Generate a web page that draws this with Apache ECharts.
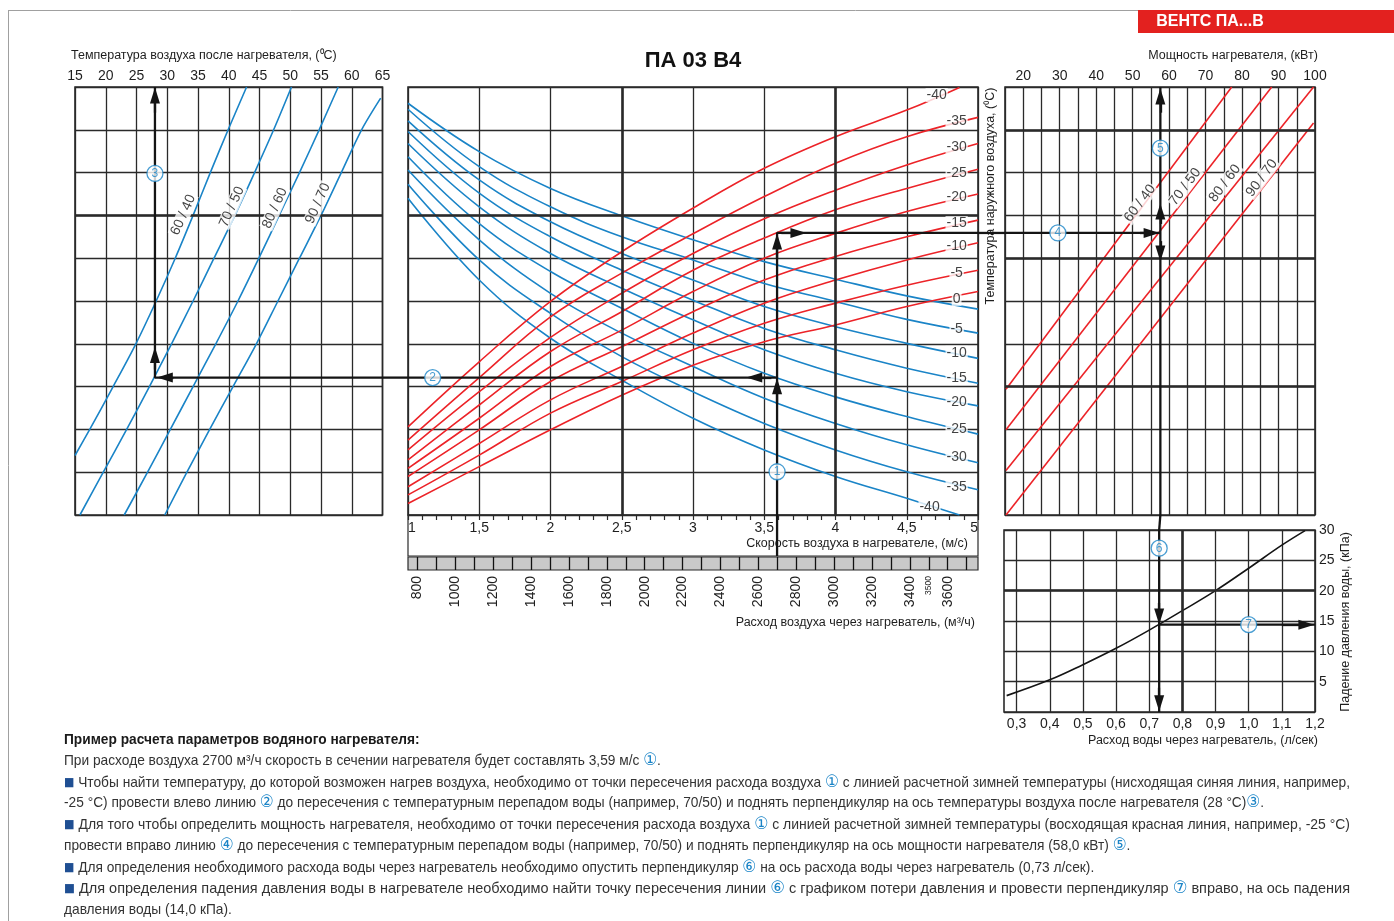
<!DOCTYPE html>
<html lang="ru">
<head>
<meta charset="utf-8">
<title>ПА 03 В4</title>
<script src="https://cdn.jsdelivr.net/npm/echarts@6.0.0/dist/echarts.min.js"></script>
<style>
html,body{margin:0;padding:0;background:#fff;}
#chart{width:1394px;height:921px;}
</style>
</head>
<body>
<div id="chart"></div>
<script>
// ================= DATA =================
// shared row scale of the three upper panels (0 = bottom edge, 10 = top edge)
const rowTicks = [0, 1, 2, 3, 4, 5, 6, 7, 8, 9, 10];

// ---- left panel: air temperature after heater, °C ----
const airTempTicks = [15, 20, 25, 30, 35, 40, 45, 50, 55, 60, 65];
const waterRegimes = ['60 / 40', '70 / 50', '80 / 60', '90 / 70'];
const left6040 = [[15.0,1.39],[17.4,2],[21.2,3],[24.9,4],[28.2,5],[31.3,6],[34.2,7],[37.0,8],[39.9,9],[42.9,10]];
const left7050 = [[15.8,0],[19.6,1],[23.4,2],[27.1,3],[30.7,4],[34.2,5],[37.6,6],[41.0,7],[44.2,8],[47.3,9],[50.2,10]];
const left8060 = [[23.0,0],[26.8,1],[30.5,2],[34.2,3],[37.9,4],[41.5,5],[44.9,6],[48.2,7],[51.5,8],[54.7,9],[57.8,10]];
const left9070 = [[29.6,0],[33.2,1],[36.9,2],[40.7,3],[44.5,4],[48.0,5],[51.5,6],[55.0,7],[58.3,8],[61.6,9],[64.7,9.74]];
const leftLabelPos = [[32.6,7.01],[40.5,7.20],[47.5,7.17],[54.5,7.28]];

// ---- centre panel: air speed in heater, m/s ----
const speedTicks = [1, 1.5, 2, 2.5, 3, 3.5, 4, 4.5, 5];
const curveSpeeds = [1, 1.5, 2, 2.5, 3, 3.5, 4, 4.5, 5];
// descending blue curves (outdoor temperature)
const blue0   = [9.62, 8.49, 7.63, 6.99, 6.43, 5.92, 5.51, 5.12, 4.81];
const blueM5  = [9.48, 8.14, 7.20, 6.50, 5.96, 5.41, 4.99, 4.57, 4.25];
const blueM10 = [9.21, 7.83, 6.85, 6.11, 5.49, 4.87, 4.40, 4.01, 3.66];
const blueM15 = [8.96, 7.52, 6.50, 5.72, 5.02, 4.36, 3.86, 3.43, 3.08];
const blueM20 = [8.68, 7.20, 6.11, 5.30, 4.56, 3.86, 3.31, 2.88, 2.55];
const blueM25 = [8.37, 6.81, 5.69, 4.83, 4.01, 3.31, 2.76, 2.30, 1.89];
const blueM30 = [8.06, 6.43, 5.18, 4.25, 3.47, 2.73, 2.14, 1.64, 1.22];
const blueM35 = [7.73, 5.96, 4.71, 3.70, 2.88, 2.14, 1.52, 1.01, 0.59];
const blueM40 = [7.40, 5.49, 4.13, 3.15, 2.26, 1.52, 0.90, 0.39, null];
const blueM40End = [4.87, 0.0];
// ascending red curves (outdoor temperature)
const redM40 = [2.06, 3.58, 4.99, 6.15, 7.17, 8.10, 8.84, 9.46, null];
const redM40End = [4.87, 9.99];
const redM35 = [1.75, 3.21, 4.63, 5.65, 6.57, 7.44, 8.22, 8.84, 9.29];
const redM30 = [1.52, 2.88, 4.15, 5.18, 6.11, 6.92, 7.59, 8.18, 8.68];
const redM25 = [1.29, 2.57, 3.82, 4.75, 5.72, 6.47, 7.13, 7.63, 8.08];
const redM20 = [1.09, 2.26, 3.47, 4.32, 5.22, 6.00, 6.58, 7.09, 7.50];
const redM15 = [0.90, 1.99, 3.12, 3.93, 4.75, 5.49, 6.04, 6.50, 6.89];
const redM10 = [0.66, 1.67, 2.69, 3.47, 4.25, 4.95, 5.49, 5.96, 6.36];
const redM5  = [0.47, 1.40, 2.38, 3.12, 3.86, 4.48, 4.95, 5.37, 5.72];
const red0   = [0.27, 1.13, 1.99, 2.80, 3.50, 4.05, 4.44, 4.87, 5.22];
// curve label anchors
const redLabelTemps  = [-40, -35, -30, -25, -20, -15, -10, -5, 0];
const redLabelSpeed  = [4.71, 4.85, 4.85, 4.85, 4.85, 4.85, 4.85, 4.85, 4.85];
const redLabelRow    = [9.81, 9.21, 8.60, 7.99, 7.43, 6.82, 6.29, 5.65, 5.05];
const blueLabelTemps = [-5, -10, -15, -20, -25, -30, -35, -40];
const blueLabelSpeed = [4.85, 4.85, 4.85, 4.85, 4.85, 4.85, 4.85, 4.66];
const blueLabelRow   = [4.35, 3.79, 3.20, 2.64, 2.01, 1.36, 0.65, 0.19];

// ---- air flow scale, m³/h ----
const flowRange  = [750, 3760];
const flowLabels = [800, 1000, 1200, 1400, 1600, 1800, 2000, 2200, 2400, 2600, 2800, 3000, 3200, 3400, 3500, 3600];
const flowCells  = [800, 900, 1000, 1100, 1200, 1300, 1400, 1500, 1600, 1700, 1800, 1900, 2000, 2100, 2200, 2300, 2400, 2500, 2600, 2700, 2800, 2900, 3000, 3100, 3200, 3300, 3400, 3500, 3600, 3700];

// ---- right panel: heater power, kW ----
const powerTicks = [15, 20, 25, 30, 35, 40, 45, 50, 55, 60, 65, 70, 75, 80, 85, 90, 95, 100];
const right6040 = [[15.27, 2.94], [77.16, 10]];
const right7050 = [[15.27, 1.99], [88.13, 10]];
const right8060 = [[15.27, 1.04], [99.6, 10]];
const right9070 = [[15.27, 0.00], [99.6, 9.16]];
const rightLabelPos = [[52.0,7.28],[64.4,7.67],[75.3,7.75],[85.4,7.87]];

// ---- bottom right: water flow (l/s) vs pressure drop (kPa) ----
const waterRange    = [0.262, 1.2];
const waterTicks    = [0.3, 0.4, 0.5, 0.6, 0.7, 0.8, 0.9, 1.0, 1.1, 1.2];
const pressureTicks = [0, 5, 10, 15, 20, 25, 30];
const waterFlow     = [0.27, 0.4, 0.5, 0.6, 0.7, 0.8, 0.9, 1.0, 1.1, 1.17];
const pressureDrop  = [2.7, 5.3, 7.8, 10.5, 13.5, 16.7, 20.0, 23.7, 27.5, 29.9];

// ---- worked example ----
const exSpeed = 3.59, exRowBlue = 3.21, exRowRed = 6.59, exAirTemp = 28;
const exPower = 57.6, exWater = 0.73, exDrop = 14.4;
// arrow heads: [fromX, fromY, toX(head centre), toY]
const centreArrows = [[exSpeed,2.6,exSpeed,3.01],[exSpeed,6.0,exSpeed,6.39],[3.62,exRowRed,3.74,exRowRed],[3.55,exRowBlue,3.43,exRowBlue]];
const leftArrows   = [[31,exRowBlue,29.6,exRowBlue],[exAirTemp,3.4,exAirTemp,3.74],[exAirTemp,9.4,exAirTemp,9.80]];
const rightArrows  = [[52,exRowRed,55.2,exRowRed],[exPower,6.8,exPower,7.09],[exPower,9.4,exPower,9.78],[exPower,6.4,exPower,6.11]];
const bottomArrows = [[exWater,18,exWater,15.76],[exWater,4,exWater,1.45],[1.1,exDrop,1.174,exDrop]];
const centreCircles = [[exSpeed,1.01,'1'],[1.173,exRowBlue,'2']];
const leftCircles   = [[exAirTemp,7.98,'3']];
const rightCircles  = [[29.5,exRowRed,'4'],[exPower,8.57,'5']];
const bottomCircles = [[exWater,27.0,'6'],[1.0,exDrop,'7']];
// heavier grid lines
const boldLeftRows = [7], boldCentreRows = [7], boldCentreSpeeds = [2.5, 4];
const boldRightRows = [3, 6, 9], boldBottomPress = [20], boldBottomWater = [0.8];

// ================= STYLE =================
const BLUE = '#1a84c7', RED = '#ec2328', INK = '#141414', GRIDC = '#2a2a2a', TXT = '#1e1e1e';
const FONT = '"Liberation Sans", Arial, sans-serif';

const chart = echarts.init(document.getElementById('chart'), null, {width: 1394, height: 921});

const splitL = {show: true, lineStyle: {color: GRIDC, width: 1.3}};
const noAxisBits = {axisLine: {show: false}, axisTick: {show: false}};
const comma = v => String(v).replace('.', ',');

const series = [];
function curve(idx, data, color, smooth) {
  series.push({type: 'line', xAxisIndex: idx, yAxisIndex: idx, data: data, smooth: smooth, symbol: 'none',
    showSymbol: false, silent: true, z: 3, lineStyle: {color: color, width: 1.6}, emphasis: {disabled: true}});
}
function pathSeries(idx, data, arrows) {
  const s = {type: 'line', xAxisIndex: idx, yAxisIndex: idx, data: data, symbol: 'none', showSymbol: false,
    silent: true, z: 5, lineStyle: {color: INK, width: 2.3}, emphasis: {disabled: true}};
  if (arrows) {
    s.markLine = {silent: true, symbol: ['none', 'triangle'], symbolSize: [10, 16], label: {show: false},
      lineStyle: {color: INK, width: 2.3, type: 'solid'}, emphasis: {disabled: true}, animation: false,
      data: arrows.map(a => [{coord: [a[0], a[1]]}, {coord: [a[2], a[3]]}])};
  }
  series.push(s);
}
function boldLines(idx, xs, ys) {
  series.push({type: 'line', xAxisIndex: idx, yAxisIndex: idx, data: [], z: 1, silent: true,
    markLine: {silent: true, symbol: ['none', 'none'], label: {show: false}, animation: false,
      lineStyle: {color: GRIDC, width: 2.6, type: 'solid'}, emphasis: {disabled: true},
      data: [...xs.map(v => ({xAxis: v})), ...ys.map(v => ({yAxis: v}))]}});
}
function circles(idx, pts) {
  series.push({type: 'scatter', xAxisIndex: idx, yAxisIndex: idx, symbol: 'circle', symbolSize: 16, z: 8, silent: true,
    itemStyle: {color: '#fff', borderColor: BLUE, borderWidth: 1.3},
    label: {show: true, position: 'inside', formatter: p => p.data[2], color: BLUE, fontSize: 12, fontFamily: FONT},
    data: pts});
}
function textMarks(idx, pts, rot) {
  series.push({type: 'scatter', xAxisIndex: idx, yAxisIndex: idx, symbolSize: 1, z: 7, silent: true,
    itemStyle: {color: 'rgba(0,0,0,0)'},
    label: {show: true, position: 'inside', formatter: p => p.data[2], rotate: rot || 0, fontSize: 14,
      fontFamily: FONT, color: '#111', backgroundColor: '#fff', padding: [0, 1]},
    data: pts});
}
const withSpeeds = (rows, end) => {
  const d = [];
  curveSpeeds.forEach((s, i) => { if (rows[i] != null) d.push([s, rows[i]]); });
  if (end) d.push(end);
  return d;
};

// bold grid lines (under the curves)
boldLines(0, [], boldLeftRows);
boldLines(1, boldCentreSpeeds, boldCentreRows);
boldLines(2, [], boldRightRows);
boldLines(3, boldBottomWater, boldBottomPress);

// left panel
[left6040, left7050, left8060, left9070].forEach(d => curve(0, d, BLUE, 0.3));
// centre panel
[blue0, blueM5, blueM10, blueM15, blueM20, blueM25, blueM30, blueM35].forEach(r => curve(1, withSpeeds(r), BLUE, 0.4));
curve(1, withSpeeds(blueM40, blueM40End), BLUE, 0.4);
curve(1, withSpeeds(redM40, redM40End), RED, 0.4);
[redM35, redM30, redM25, redM20, redM15, redM10, redM5, red0].forEach(r => curve(1, withSpeeds(r), RED, 0.4));
// right panel
[right6040, right7050, right8060, right9070].forEach(d => curve(2, d, RED, false));
// bottom right
curve(3, waterFlow.map((w, i) => [w, pressureDrop[i]]), INK, 0.4);

// example path
pathSeries(1, [[exSpeed, 0], [exSpeed, exRowRed], [speedTicks[speedTicks.length - 1], exRowRed]], centreArrows);
pathSeries(1, [[exSpeed, exRowBlue], [speedTicks[0], exRowBlue]]);
pathSeries(4, [[exSpeed, 0], [exSpeed, 1]]);
pathSeries(0, [[airTempTicks[airTempTicks.length - 1], exRowBlue], [exAirTemp, exRowBlue], [exAirTemp, 10]], leftArrows);
pathSeries(2, [[powerTicks[0], exRowRed], [exPower, exRowRed]], rightArrows);
pathSeries(2, [[exPower, 10], [exPower, 0]]);
pathSeries(3, [[exWater, 30], [exWater, 0]], bottomArrows);
pathSeries(3, [[exWater, exDrop], [waterTicks[waterTicks.length - 1], exDrop]]);

// labels
textMarks(1, redLabelTemps.map((t, i) => [redLabelSpeed[i], redLabelRow[i], String(t)]));
textMarks(1, blueLabelTemps.map((t, i) => [blueLabelSpeed[i], blueLabelRow[i], String(t)]));
textMarks(0, leftLabelPos.map((p, i) => [p[0], p[1], waterRegimes[i]]), 66);
textMarks(2, rightLabelPos.map((p, i) => [p[0], p[1], waterRegimes[i]]), 53);
circles(1, centreCircles);
circles(0, leftCircles);
circles(2, rightCircles);
circles(3, bottomCircles);

// ================= STATIC TEXT / FRAME =================
const graphics = [
  {id: 'frTop', type: 'line', shape: {x1: 8, y1: 10.5, x2: 1138, y2: 10.5}, style: {stroke: '#a0a0a0', lineWidth: 1}},
  {id: 'frLeft', type: 'line', shape: {x1: 8.5, y1: 10, x2: 8.5, y2: 921}, style: {stroke: '#a0a0a0', lineWidth: 1}},
  {id: 'banner', type: 'rect', shape: {x: 1138, y: 10, width: 256, height: 23}, style: {fill: '#e3211f'}},
  {id: 'bannerT', type: 'text', x: 1210, y: 22, style: {text: 'ВЕНТС ПА...В', fill: '#fff', font: 'bold 16px ' + FONT, align: 'center', verticalAlign: 'middle'}},
  {id: 'title', type: 'text', x: 693, y: 61, style: {text: 'ПА 03 В4', fill: '#111', font: 'bold 22px ' + FONT, align: 'center', verticalAlign: 'middle'}},
  {id: 'nLeft', type: 'text', x: 71, y: 56, style: {text: 'Температура воздуха после нагревателя, (⁰C)', fill: TXT, font: '12.5px ' + FONT, align: 'left', verticalAlign: 'middle'}},
  {id: 'nPower', type: 'text', x: 1233, y: 56, style: {text: 'Мощность нагревателя, (кВт)', fill: TXT, font: '12.5px ' + FONT, align: 'center', verticalAlign: 'middle'}},
  {id: 'nOut', type: 'text', x: 991, y: 196, rotation: Math.PI / 2, style: {text: 'Температура наружного воздуха, (⁰C)', fill: TXT, font: '12.5px ' + FONT, align: 'center', verticalAlign: 'middle'}},
  {id: 'nSpeed', type: 'text', x: 968, y: 544, style: {text: 'Скорость воздуха в нагревателе, (м/с)', fill: TXT, font: '12.5px ' + FONT, align: 'right', verticalAlign: 'middle'}},
  {id: 'nFlow', type: 'text', x: 975, y: 623, style: {text: 'Расход воздуха через нагреватель, (м³/ч)', fill: TXT, font: '12.5px ' + FONT, align: 'right', verticalAlign: 'middle'}},
  {id: 'nDrop', type: 'text', x: 1346, y: 622, rotation: Math.PI / 2, style: {text: 'Падение давления воды, (кПа)', fill: TXT, font: '12.5px ' + FONT, align: 'center', verticalAlign: 'middle'}},
  {id: 'nWater', type: 'text', x: 1318, y: 741, style: {text: 'Расход воды через нагреватель, (л/сек)', fill: TXT, font: '12.5px ' + FONT, align: 'right', verticalAlign: 'middle'}}
];

// explanatory note below the chart
const noteLines = [
  {y: 740, bold: true, segs: [['t', 'Пример расчета параметров водяного нагревателя:']]},
  {y: 761, segs: [['t', 'При расходе воздуха 2700 м³/ч скорость в сечении нагревателя будет составлять 3,59 м/с '], ['c', '①'], ['t', '.']]},
  {y: 783, full: true, segs: [['q', '■'], ['t', ' Чтобы найти температуру, до которой возможен нагрев воздуха, необходимо от точки пересечения расхода воздуха '], ['c', '①'], ['t', ' с линией расчетной зимней температуры (нисходящая синяя линия, например,']]},
  {y: 803, segs: [['t', '-25 °С) провести влево линию '], ['c', '②'], ['t', ' до пересечения с температурным перепадом воды (например, 70/50) и поднять перпендикуляр на ось температуры воздуха после нагревателя (28 °С)'], ['c', '③'], ['t', '.']]},
  {y: 825, full: true, segs: [['q', '■'], ['t', ' Для того чтобы определить мощность нагревателя, необходимо от точки пересечения расхода воздуха '], ['c', '①'], ['t', ' с линией расчетной зимней температуры (восходящая красная линия, например, -25 °С)']]},
  {y: 846, segs: [['t', 'провести вправо линию '], ['c', '④'], ['t', ' до пересечения с температурным перепадом воды (например, 70/50) и поднять перпендикуляр на ось мощности нагревателя (58,0 кВт) '], ['c', '⑤'], ['t', '.']]},
  {y: 868, segs: [['q', '■'], ['t', ' Для определения необходимого расхода воды через нагреватель необходимо опустить перпендикуляр '], ['c', '⑥'], ['t', ' на ось расхода воды через нагреватель (0,73 л/сек).']]},
  {y: 889, full: true, segs: [['q', '■'], ['t', ' Для определения падения давления воды в нагревателе необходимо найти точку пересечения линии '], ['c', '⑥'], ['t', ' с графиком потери давления и провести перпендикуляр '], ['c', '⑦'], ['t', ' вправо, на ось падения']]},
  {y: 910, segs: [['t', 'давления воды (14,0 кПа).']]}
];
const NOTE_X = 64, NOTE_W = 1286;
const segFont = {t: '15px ' + FONT, b: 'bold 15px ' + FONT, c: '17px "DejaVu Sans", sans-serif', q: '12px "DejaVu Sans", sans-serif'};
const mctx = document.createElement('canvas').getContext('2d');
function lineWidth(line) {
  let w = 0;
  line.segs.forEach(s => { mctx.font = (s[0] === 't' && line.bold) ? segFont.b : segFont[s[0]]; w += mctx.measureText(s[1]).width; });
  return w;
}
const baseScale = Math.min(1, NOTE_W / lineWidth(noteLines[2]));
noteLines.forEach((line, i) => {
  const sc = line.full ? Math.min(1, NOTE_W / lineWidth(line)) : baseScale;
  graphics.push({
    id: 'note' + i, type: 'text', x: NOTE_X, y: line.y, scaleX: sc, originX: 0, originY: 0,
    style: {
      x: 0, y: 0, align: 'left', verticalAlign: 'middle',
      text: line.segs.map(s => '{' + (s[0] === 't' && line.bold ? 'b' : s[0]) + '|' + s[1] + '}').join(''),
      rich: {
        t: {font: segFont.t, fill: '#333'},
        b: {font: segFont.b, fill: '#1a1a1a'},
        c: {font: segFont.c, fill: BLUE},
        q: {font: segFont.q, fill: '#1f4f93'}
      }
    }
  });
});

const option = {
  animation: false,
  backgroundColor: '#fff',
  textStyle: {fontFamily: FONT},
  grid: [
    {left: 75, top: 87, width: 307.5, height: 428, show: true, borderColor: GRIDC, borderWidth: 1.6},
    {left: 408, top: 87, width: 570, height: 428, show: true, borderColor: GRIDC, borderWidth: 1.6},
    {left: 1005, top: 87, width: 310, height: 428, show: true, borderColor: GRIDC, borderWidth: 1.6},
    {left: 1004, top: 530, width: 311, height: 182, show: true, borderColor: GRIDC, borderWidth: 1.6},
    {left: 408, top: 515, width: 570, height: 41, show: true, borderColor: GRIDC, borderWidth: 1.2},
    {left: 408, top: 557, width: 570, height: 13, show: true, borderColor: GRIDC, borderWidth: 1.2, backgroundColor: '#c9c9c9'}
  ],
  xAxis: [
    Object.assign({gridIndex: 0, type: 'value', position: 'top', min: airTempTicks[0], max: airTempTicks[airTempTicks.length - 1],
      interval: airTempTicks[1] - airTempTicks[0], axisLabel: {fontSize: 14, color: TXT, margin: 4}, splitLine: splitL}, noAxisBits),
    {gridIndex: 1, type: 'value', position: 'bottom', min: speedTicks[0], max: speedTicks[speedTicks.length - 1],
      interval: speedTicks[1] - speedTicks[0], axisLine: {show: false},
      axisTick: {show: true, length: 5, lineStyle: {color: GRIDC, width: 1.2}},
      minorTick: {show: true, splitNumber: 5, length: 5, lineStyle: {color: GRIDC, width: 1.2}},
      axisLabel: {fontSize: 14, color: TXT, margin: 6, formatter: comma, alignMinLabel: 'left', alignMaxLabel: 'right'},
      splitLine: splitL},
    Object.assign({gridIndex: 2, type: 'value', position: 'top', min: powerTicks[0], max: powerTicks[powerTicks.length - 1],
      interval: powerTicks[1] - powerTicks[0], axisLabel: {fontSize: 14, color: TXT, margin: 4, formatter: v => (v % 10 === 0 ? String(v) : '')},
      splitLine: splitL}, noAxisBits),
    {gridIndex: 3, type: 'value', position: 'bottom', min: waterRange[0], max: waterRange[1], axisLine: {show: false},
      axisTick: {show: false, customValues: waterTicks},
      axisLabel: {customValues: waterTicks, fontSize: 14, color: TXT, margin: 5, formatter: v => v.toFixed(1).replace('.', ',')},
      splitLine: splitL},
    {gridIndex: 4, type: 'value', min: speedTicks[0], max: speedTicks[speedTicks.length - 1], show: false},
    {gridIndex: 5, type: 'value', position: 'bottom', min: flowRange[0], max: flowRange[1], axisLine: {show: false},
      axisTick: {show: true, inside: true, length: 13, customValues: flowCells, lineStyle: {color: '#111', width: 1.3}},
      axisLabel: {customValues: flowLabels, rotate: 90, margin: 6, fontSize: 14, color: TXT,
        formatter: v => (v === 3500 ? '{s|3500}' : String(v)), rich: {s: {fontSize: 8.5, color: TXT}}},
      splitLine: {show: false}}
  ],
  yAxis: [
    Object.assign({gridIndex: 0, type: 'value', min: rowTicks[0], max: rowTicks[rowTicks.length - 1], interval: 1, axisLabel: {show: false}, splitLine: splitL}, noAxisBits),
    Object.assign({gridIndex: 1, type: 'value', min: rowTicks[0], max: rowTicks[rowTicks.length - 1], interval: 1, axisLabel: {show: false}, splitLine: splitL}, noAxisBits),
    Object.assign({gridIndex: 2, type: 'value', min: rowTicks[0], max: rowTicks[rowTicks.length - 1], interval: 1, axisLabel: {show: false}, splitLine: splitL}, noAxisBits),
    Object.assign({gridIndex: 3, type: 'value', position: 'right', min: pressureTicks[0], max: pressureTicks[pressureTicks.length - 1],
      interval: pressureTicks[1] - pressureTicks[0], axisLabel: {fontSize: 14, color: TXT, margin: 4, formatter: v => (v === 0 ? '' : String(v))},
      splitLine: splitL}, noAxisBits),
    {gridIndex: 4, type: 'value', min: 0, max: 1, show: false},
    {gridIndex: 5, type: 'value', min: 0, max: 1, show: false}
  ],
  graphic: graphics,
  series: series
};
chart.setOption(option);

// connectors of the example path across the gaps between panels (positions from the axes)
const px = (g, v) => chart.convertToPixel({gridIndex: g}, v);
const gaps = [
  [px(1, [speedTicks[speedTicks.length - 1], exRowRed]), px(2, [powerTicks[0], exRowRed])],
  [px(1, [speedTicks[0], exRowBlue]), px(0, [airTempTicks[airTempTicks.length - 1], exRowBlue])],
  [px(2, [exPower, 0]), px(3, [exWater, pressureTicks[pressureTicks.length - 1]])]
];
chart.setOption({graphic: gaps.map((g, i) => ({id: 'gap' + i, type: 'line', z: 10,
  shape: {x1: g[0][0], y1: g[0][1], x2: g[1][0], y2: g[1][1]}, style: {stroke: INK, lineWidth: 2.3}}))});
</script>
</body>
</html>
